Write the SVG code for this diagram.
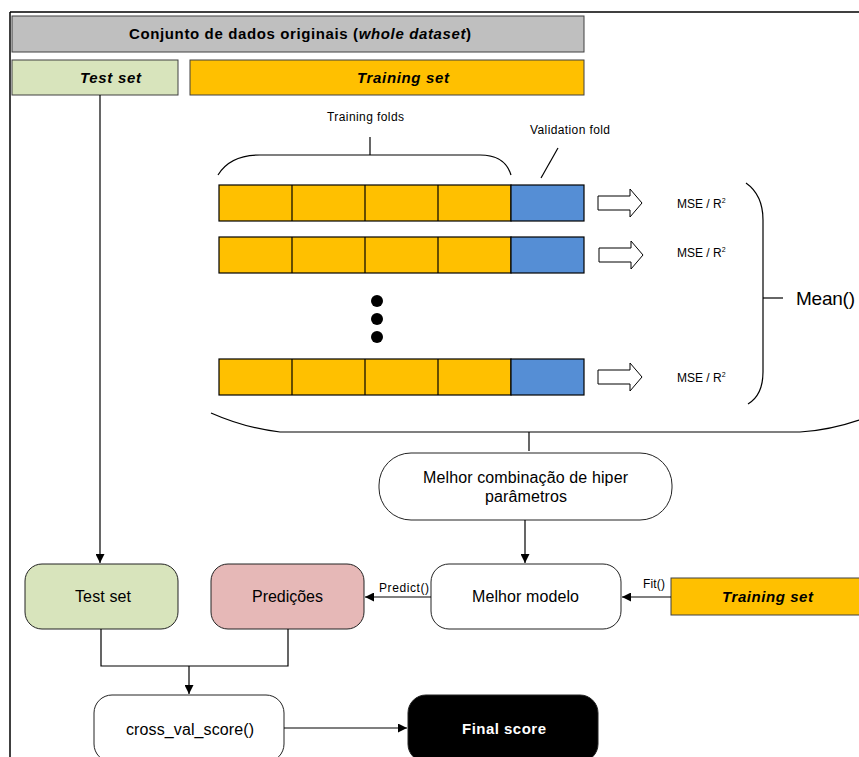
<svg xmlns="http://www.w3.org/2000/svg" width="859" height="757" viewBox="0 0 859 757">
<defs>
<style>
text{font-family:"Liberation Sans",Arial,sans-serif;fill:#000}
.hdr{stroke:#404040;stroke-width:1}
.b{font-weight:bold}
.bi{font-weight:bold;font-style:italic}
.cell{stroke:#000;stroke-width:1.2}
.ln{fill:none;stroke:#000;stroke-width:1.2}
.node{stroke:#222;stroke-width:1}
.blk{fill:#fff;stroke:#000;stroke-width:1}
</style>
<marker id="ah" viewBox="0 0 10 10" refX="10" refY="5" markerWidth="9" markerHeight="9" markerUnits="userSpaceOnUse" orient="auto">
<path d="M0,0 L10,5 L0,10 Z" fill="#000"/>
</marker>
</defs>
<rect width="859" height="757" fill="#fff"/>
<g id="frame">
<line x1="10" y1="12" x2="859" y2="12" stroke="#000" stroke-width="1.5"/>
<line x1="10" y1="12" x2="10" y2="757" stroke="#000" stroke-width="1.5"/>
</g>
<g id="whole-dataset">
<rect x="12" y="16" width="572" height="36" fill="#BFBFBF" class="hdr"/>
<text x="129" y="39" font-size="15" textLength="342" lengthAdjust="spacing" class="b">Conjunto de dados originais (<tspan font-style="italic">whole dataset</tspan>)</text>
</g>
<g id="test-set-header">
<rect x="12" y="60" width="166" height="35" fill="#D8E4BC" class="hdr"/>
<text x="80" y="83" font-size="15" textLength="61" lengthAdjust="spacing" class="bi">Test set</text>
</g>
<g id="training-set-header">
<rect x="190" y="60" width="394" height="35" fill="#FFC000" class="hdr"/>
<text x="357" y="83" font-size="15" textLength="92" lengthAdjust="spacing" class="bi">Training set</text>
</g>
<g id="folds">
<text x="327" y="121" font-size="12" textLength="77" lengthAdjust="spacing">Training folds</text>
<path class="ln" d="M218,175 Q230,155 260,155 L480,155 Q505,155 511,175"/>
<line class="ln" x1="370" y1="137" x2="370" y2="155"/>
<text x="530" y="134" font-size="12" textLength="80" lengthAdjust="spacing">Validation fold</text>
<line class="ln" x1="558" y1="148" x2="541" y2="178"/>
<g id="row1">
<rect x="219" y="185" width="292" height="36" fill="#FFC000" class="cell"/>
<line class="cell" x1="292" y1="185" x2="292" y2="221"/>
<line class="cell" x1="365" y1="185" x2="365" y2="221"/>
<line class="cell" x1="438" y1="185" x2="438" y2="221"/>
<rect x="511" y="185" width="73" height="36" fill="#558ED5" class="cell"/>
</g>
<g id="row2">
<rect x="219" y="237" width="292" height="36" fill="#FFC000" class="cell"/>
<line class="cell" x1="292" y1="237" x2="292" y2="273"/>
<line class="cell" x1="365" y1="237" x2="365" y2="273"/>
<line class="cell" x1="438" y1="237" x2="438" y2="273"/>
<rect x="511" y="237" width="73" height="36" fill="#558ED5" class="cell"/>
</g>
<g id="dots">
<circle cx="377" cy="301" r="6" fill="#000"/>
<circle cx="377" cy="319" r="6" fill="#000"/>
<circle cx="377" cy="337" r="6" fill="#000"/>
</g>
<g id="row3">
<rect x="219" y="359" width="292" height="36" fill="#FFC000" class="cell"/>
<line class="cell" x1="292" y1="359" x2="292" y2="395"/>
<line class="cell" x1="365" y1="359" x2="365" y2="395"/>
<line class="cell" x1="438" y1="359" x2="438" y2="395"/>
<rect x="511" y="359" width="73" height="36" fill="#558ED5" class="cell"/>
</g>
</g>
<g id="scores">
<path class="blk" d="M598,196 L630,196 L630,189 L642,203 L630,217 L630,210 L598,210 Z"/>
<path class="blk" d="M599,248 L631,248 L631,241 L643,255 L631,269 L631,262 L599,262 Z"/>
<path class="blk" d="M598,370 L630,370 L630,363 L642,377 L630,391 L630,384 L598,384 Z"/>
<text x="677" y="208" font-size="12">MSE / R<tspan font-size="7" dy="-5">2</tspan></text>
<text x="677" y="257" font-size="12">MSE / R<tspan font-size="7" dy="-5">2</tspan></text>
<text x="677" y="382" font-size="12">MSE / R<tspan font-size="7" dy="-5">2</tspan></text>
<path class="ln" d="M746,183 Q763,195 763,220 L763,372 Q763,395 748,404"/>
<line class="ln" x1="763" y1="298" x2="783" y2="298"/>
<text x="796" y="305" font-size="19" textLength="59" lengthAdjust="spacing">Mean()</text>
</g>
<g id="bottom-brace">
<path class="ln" d="M211,413 Q245,428 280,432 L800,432 Q830,430 859,420"/>
</g>
<g id="melhor-combinacao">
<rect x="379" y="453" width="293" height="67" rx="32" ry="32" fill="#fff" class="node"/>
<text x="423" y="483" font-size="16" textLength="205" lengthAdjust="spacing">Melhor combinação de hiper</text>
<text x="485" y="502" font-size="16" textLength="82" lengthAdjust="spacing">parâmetros</text>
</g>
<g id="melhor-modelo">
<rect x="431" y="564" width="190" height="65" rx="18" ry="18" fill="#fff" class="node"/>
<text x="472" y="602" font-size="16" textLength="107" lengthAdjust="spacing">Melhor modelo</text>
</g>
<g id="training-set-right">
<rect x="671" y="578" width="200" height="37" fill="#FFC000" class="hdr"/>
<text x="722" y="602" font-size="15" textLength="91" lengthAdjust="spacing" class="bi">Training set</text>
</g>
<g id="test-set">
<rect x="25" y="564" width="153" height="65" rx="17" ry="17" fill="#D8E4BC" class="node"/>
<text x="75" y="602" font-size="16" textLength="56" lengthAdjust="spacing">Test set</text>
</g>
<g id="predicoes">
<rect x="211" y="564" width="153" height="65" rx="17" ry="17" fill="#E6B8B7" class="node"/>
<text x="252" y="602" font-size="16" textLength="71" lengthAdjust="spacing">Predições</text>
</g>
<g id="cross-val-score">
<rect x="94" y="695" width="190" height="67" rx="18" ry="18" fill="#fff" class="node"/>
<text x="126" y="735" font-size="16" textLength="128" lengthAdjust="spacing">cross_val_score()</text>
</g>
<g id="final-score">
<rect x="408" y="695" width="190" height="67" rx="18" ry="18" fill="#000" class="node"/>
<text x="462" y="734" font-size="15" textLength="84" lengthAdjust="spacing" class="b" style="fill:#fff">Final score</text>
</g>
<g id="connectors">
<line class="ln" x1="100" y1="95" x2="100" y2="563" marker-end="url(#ah)"/>
<line class="ln" x1="529" y1="432" x2="529" y2="451"/>
<line class="ln" x1="525" y1="520" x2="525" y2="563" marker-end="url(#ah)"/>
<line class="ln" x1="671" y1="597" x2="622" y2="597" marker-end="url(#ah)"/>
<text x="643" y="588" font-size="12" textLength="22" lengthAdjust="spacing">Fit()</text>
<line class="ln" x1="431" y1="597" x2="365" y2="597" marker-end="url(#ah)"/>
<text x="379" y="592" font-size="12" textLength="50" lengthAdjust="spacing">Predict()</text>
<path class="ln" d="M101,629 L101,666 L288,666 L288,629"/>
<line class="ln" x1="189" y1="666" x2="189" y2="694" marker-end="url(#ah)"/>
<line class="ln" x1="284" y1="728" x2="407" y2="728" marker-end="url(#ah)"/>
</g>
</svg>
